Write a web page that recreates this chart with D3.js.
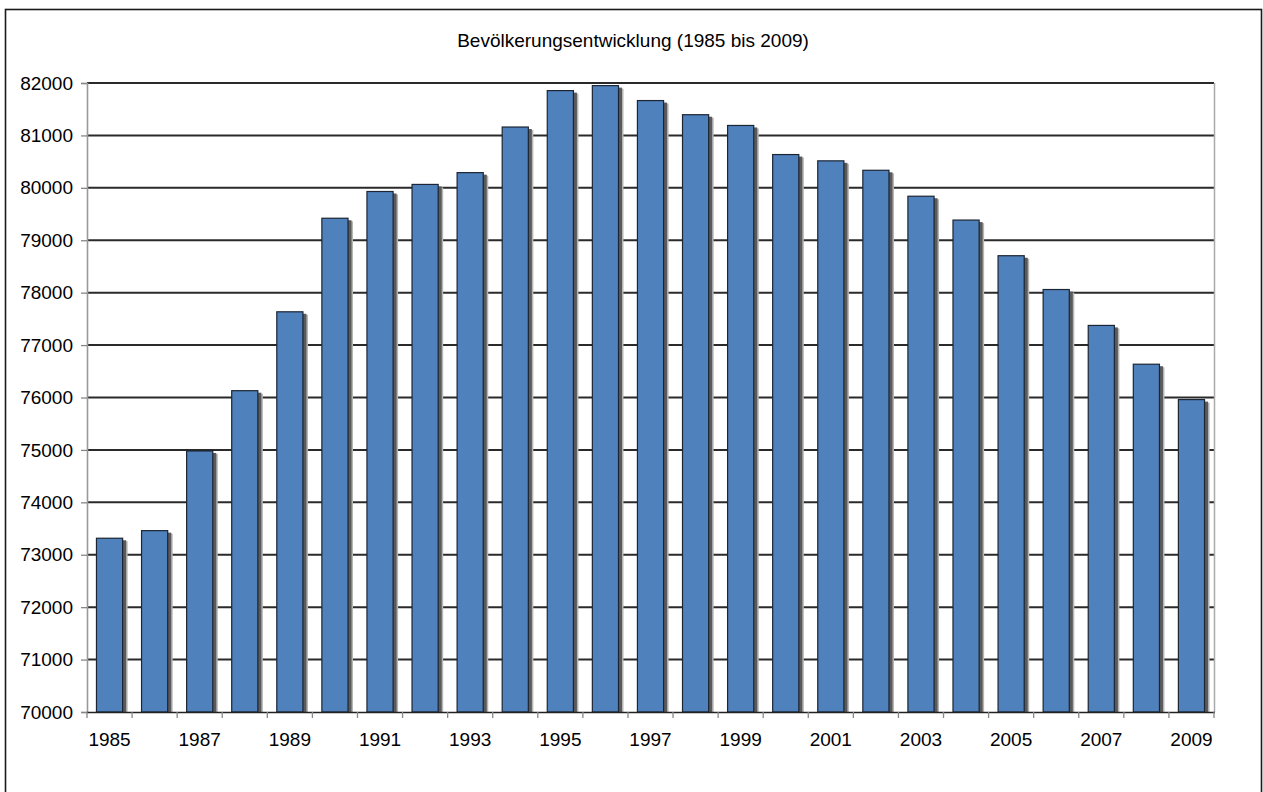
<!DOCTYPE html>
<html>
<head>
<meta charset="utf-8">
<script src="https://cdn.jsdelivr.net/npm/d3@7"></script>
<style>
  html, body { margin: 0; padding: 0; background: #fff; }
  svg { display: block; }
  text { font-family: "Liberation Sans", Arial, sans-serif; fill: #000; }
</style>
</head>
<body>
<script>
const title = "Bevölkerungsentwicklung (1985 bis 2009)";
const years = [1985,1986,1987,1988,1989,1990,1991,1992,1993,1994,1995,1996,1997,1998,1999,2000,2001,2002,2003,2004,2005,2006,2007,2008,2009];
const population = [73315,73460,74980,76130,77635,79420,79930,80065,80290,81160,81855,81950,81665,81395,81190,80635,80515,80335,79840,79385,78705,78060,77375,76635,75960];
const yTicks = [70000,71000,72000,73000,74000,75000,76000,77000,78000,79000,80000,81000,82000];
const xLabelYears = [1985,1987,1989,1991,1993,1995,1997,1999,2001,2003,2005,2007,2009];

const W = 1263, H = 792;
const plot = { left: 87, right: 1214, top: 83, bottom: 712 };
const FS = 19;

const svg = d3.select("body").append("svg").attr("width", W).attr("height", H);

// outer frame
svg.append("rect")
  .attr("x", 5.5).attr("y", 9.5).attr("width", 1256).attr("height", 820)
  .attr("fill", "none").attr("stroke", "#1a1a1a").attr("stroke-width", 1.6);

// title
svg.append("text")
  .attr("x", 633).attr("y", 47)
  .attr("text-anchor", "middle")
  .attr("font-size", FS)
  .text(title);

const x = d3.scaleBand()
  .domain(years)
  .range([plot.left, plot.right])
  .paddingInner(0.42)
  .paddingOuter(0.21);

const y = d3.scaleLinear()
  .domain([70000, 82000])
  .range([plot.bottom, plot.top]);

// gridlines
svg.append("g").selectAll("line")
  .data(yTicks.filter(d => d > 70000))
  .join("line")
  .attr("x1", plot.left).attr("x2", plot.right)
  .attr("y1", d => y(d)).attr("y2", d => y(d))
  .attr("stroke", "#2a2a2a").attr("stroke-width", 2);

// plot right border
svg.append("line")
  .attr("x1", plot.right + 0.5).attr("x2", plot.right + 0.5)
  .attr("y1", plot.top).attr("y2", plot.bottom)
  .attr("stroke", "#aaa").attr("stroke-width", 1.5);

// y axis
const yAxis = d3.axisLeft(y).tickValues(yTicks).tickSize(6).tickPadding(8).tickFormat(d3.format("d"));
const gy = svg.append("g").attr("transform", `translate(${plot.left},0)`).call(yAxis);
gy.select(".domain").attr("stroke", "#999").attr("stroke-width", 1.6);
gy.selectAll(".tick line").attr("stroke", "#888").attr("stroke-width", 1.3);
gy.selectAll(".tick text").attr("font-size", FS).attr("font-family", "Liberation Sans, Arial, sans-serif").attr("fill", "#000");

// bars: shadow + bar
const bars = svg.append("g");
const data = years.map((yr, i) => ({ yr, v: population[i] }));
bars.selectAll("rect.sh2").data(data).join("rect").attr("class", "sh2")
  .attr("x", d => x(d.yr) + 3).attr("y", d => y(d.v) + 3)
  .attr("width", x.bandwidth() + 2).attr("height", d => plot.bottom - y(d.v) - 3)
  .attr("fill", "#b5b5b5");
bars.selectAll("rect.sh1").data(data).join("rect").attr("class", "sh1")
  .attr("x", d => x(d.yr) + 2).attr("y", d => y(d.v) + 2)
  .attr("width", x.bandwidth() + 1.5).attr("height", d => plot.bottom - y(d.v) - 2)
  .attr("fill", "#5a5a5a");
bars.selectAll("rect.bar").data(data).join("rect").attr("class", "bar")
  .attr("x", d => x(d.yr)).attr("y", d => y(d.v))
  .attr("width", x.bandwidth()).attr("height", d => plot.bottom - y(d.v))
  .attr("fill", "#4F81BD").attr("stroke", "#1b2533").attr("stroke-width", 1.2);

// x axis: ticks at category boundaries
const xb = d3.scaleLinear().domain([0, years.length]).range([plot.left, plot.right]);
const boundaries = d3.range(years.length + 1);
svg.append("line")
  .attr("x1", plot.left).attr("x2", plot.right + 1)
  .attr("y1", plot.bottom + 0.5).attr("y2", plot.bottom + 0.5)
  .attr("stroke", "#222").attr("stroke-width", 1.3);
svg.append("g").selectAll("line").data(boundaries).join("line")
  .attr("x1", d => xb(d)).attr("x2", d => xb(d))
  .attr("y1", plot.bottom).attr("y2", plot.bottom + 6)
  .attr("stroke", "#888").attr("stroke-width", 1.3);
svg.append("g").selectAll("text").data(xLabelYears).join("text")
  .attr("x", d => x(d) + x.bandwidth() / 2)
  .attr("y", 746)
  .attr("text-anchor", "middle")
  .attr("font-size", FS)
  .text(d => d);
</script>
</body>
</html>
